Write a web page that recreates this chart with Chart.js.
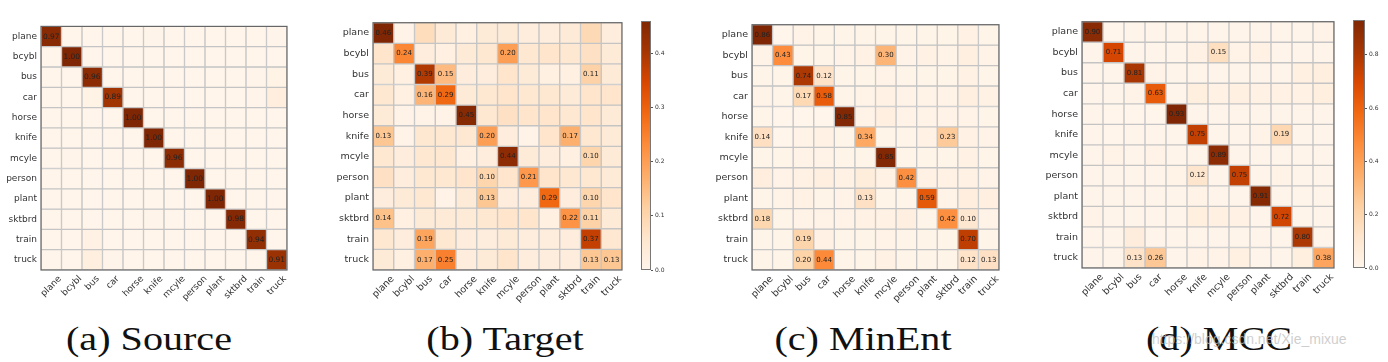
<!DOCTYPE html>
<html>
<head>
<meta charset="utf-8">
<script src="https://cdn.jsdelivr.net/npm/chart.js@4.4.1/dist/chart.umd.min.js"></script>
<style>
  html, body { margin: 0; padding: 0; background: #fff; }
  body { width: 1388px; height: 362px; position: relative; overflow: hidden; }
  canvas { position: absolute; }
  .cap {
    position: absolute; top: 322px; transform: translateX(-50%) scaleX(1.18);
    font-family: "Liberation Serif", serif; font-size: 34px; line-height: 1; color: #111; white-space: nowrap;
  }
  .wm {
    position: absolute; left: 1152px; top: 331px;
    font-family: "Liberation Sans", sans-serif; font-size: 14px;
    color: rgba(190, 190, 190, 0.75); white-space: nowrap;
  }
</style>
</head>
<body>
<canvas id="cmSource"></canvas>
<canvas id="cmTarget"></canvas>
<canvas id="cbTarget"></canvas>
<canvas id="cmMinEnt"></canvas>
<canvas id="cmMCC"></canvas>
<canvas id="cbMCC"></canvas>
<div class="cap" style="left:149px">(a) Source</div>
<div class="cap" style="left:505px">(b) Target</div>
<div class="cap" style="left:863px">(c) MinEnt</div>
<div class="cap" style="left:1219px">(d) MCC</div>
<div class="wm">https://blog.csdn.net/Xie_mixue</div>

<script>
const classes = ["plane", "bcybl", "bus", "car", "horse", "knife", "mcyle", "person", "plant", "sktbrd", "train", "truck"];

// rows = true class, columns = predicted class
const source = [
  [0.97, 0.00, 0.00, 0.00, 0.00, 0.01, 0.00, 0.00, 0.00, 0.00, 0.00, 0.01],
  [0.00, 1.00, 0.00, 0.00, 0.00, 0.00, 0.00, 0.00, 0.00, 0.00, 0.00, 0.00],
  [0.00, 0.00, 0.96, 0.00, 0.00, 0.00, 0.00, 0.00, 0.00, 0.00, 0.01, 0.02],
  [0.00, 0.00, 0.02, 0.89, 0.00, 0.00, 0.00, 0.00, 0.00, 0.00, 0.01, 0.06],
  [0.00, 0.00, 0.00, 0.00, 1.00, 0.00, 0.00, 0.00, 0.00, 0.00, 0.00, 0.00],
  [0.00, 0.00, 0.00, 0.00, 0.00, 1.00, 0.00, 0.00, 0.00, 0.00, 0.00, 0.00],
  [0.00, 0.01, 0.00, 0.00, 0.00, 0.00, 0.96, 0.00, 0.00, 0.00, 0.00, 0.00],
  [0.00, 0.00, 0.00, 0.00, 0.00, 0.00, 0.00, 1.00, 0.00, 0.00, 0.00, 0.00],
  [0.00, 0.00, 0.00, 0.00, 0.00, 0.00, 0.00, 0.00, 1.00, 0.00, 0.00, 0.00],
  [0.00, 0.00, 0.00, 0.00, 0.00, 0.01, 0.00, 0.00, 0.00, 0.98, 0.00, 0.00],
  [0.00, 0.00, 0.03, 0.00, 0.00, 0.00, 0.00, 0.00, 0.00, 0.00, 0.94, 0.00],
  [0.00, 0.00, 0.05, 0.01, 0.00, 0.00, 0.00, 0.00, 0.00, 0.00, 0.00, 0.91]
];

const target = [
  [0.46, 0.01, 0.08, 0.04, 0.02, 0.04, 0.04, 0.03, 0.03, 0.04, 0.09, 0.03],
  [0.06, 0.24, 0.03, 0.02, 0.04, 0.05, 0.20, 0.05, 0.06, 0.05, 0.07, 0.04],
  [0.04, 0.02, 0.39, 0.15, 0.03, 0.03, 0.06, 0.04, 0.02, 0.02, 0.11, 0.04],
  [0.05, 0.02, 0.16, 0.29, 0.04, 0.05, 0.06, 0.05, 0.05, 0.04, 0.06, 0.06],
  [0.04, 0.01, 0.01, 0.01, 0.45, 0.05, 0.07, 0.06, 0.06, 0.05, 0.06, 0.04],
  [0.13, 0.01, 0.05, 0.05, 0.05, 0.20, 0.03, 0.01, 0.06, 0.17, 0.05, 0.04],
  [0.05, 0.03, 0.05, 0.05, 0.02, 0.03, 0.44, 0.04, 0.03, 0.02, 0.10, 0.04],
  [0.07, 0.03, 0.05, 0.05, 0.06, 0.10, 0.06, 0.21, 0.06, 0.05, 0.05, 0.04],
  [0.03, 0.04, 0.05, 0.01, 0.04, 0.13, 0.03, 0.03, 0.29, 0.03, 0.10, 0.06],
  [0.14, 0.02, 0.04, 0.04, 0.04, 0.05, 0.06, 0.06, 0.02, 0.22, 0.11, 0.04],
  [0.05, 0.03, 0.19, 0.05, 0.03, 0.03, 0.04, 0.03, 0.03, 0.03, 0.37, 0.05],
  [0.04, 0.02, 0.17, 0.25, 0.03, 0.04, 0.06, 0.03, 0.03, 0.03, 0.13, 0.13]
];

const minEnt = [
  [0.86, 0.00, 0.02, 0.01, 0.01, 0.01, 0.01, 0.01, 0.01, 0.01, 0.03, 0.01],
  [0.02, 0.43, 0.01, 0.01, 0.02, 0.03, 0.30, 0.02, 0.03, 0.02, 0.04, 0.02],
  [0.01, 0.01, 0.74, 0.12, 0.01, 0.01, 0.02, 0.01, 0.01, 0.01, 0.03, 0.01],
  [0.02, 0.01, 0.17, 0.58, 0.01, 0.02, 0.03, 0.02, 0.02, 0.02, 0.04, 0.03],
  [0.01, 0.00, 0.00, 0.00, 0.85, 0.02, 0.04, 0.02, 0.02, 0.02, 0.02, 0.01],
  [0.14, 0.00, 0.02, 0.03, 0.01, 0.34, 0.01, 0.01, 0.03, 0.23, 0.03, 0.02],
  [0.01, 0.01, 0.02, 0.02, 0.01, 0.01, 0.85, 0.01, 0.01, 0.01, 0.03, 0.01],
  [0.05, 0.02, 0.03, 0.04, 0.03, 0.06, 0.03, 0.42, 0.03, 0.03, 0.03, 0.02],
  [0.01, 0.02, 0.03, 0.01, 0.02, 0.13, 0.01, 0.01, 0.59, 0.02, 0.05, 0.04],
  [0.18, 0.01, 0.02, 0.02, 0.02, 0.03, 0.03, 0.04, 0.01, 0.42, 0.10, 0.02],
  [0.01, 0.01, 0.19, 0.03, 0.01, 0.01, 0.02, 0.01, 0.01, 0.01, 0.70, 0.01],
  [0.01, 0.01, 0.20, 0.44, 0.01, 0.01, 0.03, 0.01, 0.01, 0.01, 0.12, 0.13]
];

const mcc = [
  [0.90, 0.00, 0.01, 0.01, 0.01, 0.01, 0.01, 0.01, 0.01, 0.01, 0.01, 0.02],
  [0.01, 0.71, 0.01, 0.01, 0.01, 0.03, 0.15, 0.02, 0.03, 0.01, 0.01, 0.01],
  [0.01, 0.01, 0.81, 0.02, 0.01, 0.01, 0.01, 0.01, 0.01, 0.01, 0.04, 0.05],
  [0.01, 0.01, 0.02, 0.63, 0.01, 0.05, 0.03, 0.04, 0.03, 0.03, 0.03, 0.05],
  [0.01, 0.00, 0.00, 0.00, 0.93, 0.01, 0.01, 0.01, 0.01, 0.01, 0.01, 0.01],
  [0.01, 0.00, 0.01, 0.01, 0.01, 0.75, 0.01, 0.01, 0.02, 0.19, 0.01, 0.01],
  [0.01, 0.02, 0.01, 0.02, 0.01, 0.01, 0.89, 0.01, 0.01, 0.01, 0.01, 0.01],
  [0.01, 0.01, 0.01, 0.01, 0.02, 0.12, 0.01, 0.75, 0.01, 0.02, 0.01, 0.01],
  [0.01, 0.01, 0.01, 0.01, 0.01, 0.02, 0.01, 0.01, 0.91, 0.01, 0.01, 0.01],
  [0.02, 0.01, 0.01, 0.01, 0.01, 0.05, 0.04, 0.03, 0.01, 0.72, 0.01, 0.01],
  [0.01, 0.01, 0.06, 0.01, 0.01, 0.01, 0.01, 0.01, 0.01, 0.01, 0.80, 0.01],
  [0.01, 0.01, 0.13, 0.26, 0.01, 0.02, 0.02, 0.04, 0.01, 0.01, 0.05, 0.38]
];

// matplotlib "Oranges"
const orangeStops = ["#fff5eb", "#fee6ce", "#fdd0a2", "#fdae6b", "#fd8d3c", "#f16913", "#d94801", "#a63603", "#7f2704"];

function hexRgb(h) {
  return [parseInt(h.slice(1, 3), 16), parseInt(h.slice(3, 5), 16), parseInt(h.slice(5, 7), 16)];
}

function oranges(t) {
  t = Math.max(0, Math.min(1, t));
  const pos = t * (orangeStops.length - 1);
  const i = Math.min(Math.floor(pos), orangeStops.length - 2);
  const f = pos - i;
  const a = hexRgb(orangeStops[i]);
  const b = hexRgb(orangeStops[i + 1]);
  const c = a.map((v, k) => Math.round(v + (b[k] - v) * f));
  return "rgb(" + c.join(",") + ")";
}

const cellText = {
  id: "cellText",
  afterDatasetsDraw(chart, args, opts) {
    const { ctx, chartArea, scales } = chart;
    const x = scales.x;
    const y = scales.y;
    ctx.save();
    // values
    ctx.font = opts.annSize + "px 'DejaVu Sans'";
    ctx.fillStyle = "#222";
    ctx.textAlign = "center";
    ctx.textBaseline = "middle";
    opts.matrix.forEach((row, r) => {
      row.forEach((v, c) => {
        if (v >= 0.095) {
          ctx.fillText(v.toFixed(2), x.getPixelForValue(c), y.getPixelForValue(r + 0.5));
        }
      });
    });
    // frame
    ctx.strokeStyle = "#666";
    ctx.lineWidth = 1.2;
    ctx.strokeRect(chartArea.left, chartArea.top, chartArea.right - chartArea.left, chartArea.bottom - chartArea.top);
    // x labels, rotated 45deg and centred on the tick
    ctx.font = opts.labelSize + "px 'DejaVu Sans'";
    ctx.fillStyle = "#333";
    classes.forEach((name, i) => {
      const w = ctx.measureText(name).width;
      const h = (w + opts.labelSize * 0.75) * Math.SQRT1_2;
      const cx = x.getPixelForTick(i);
      const cy = chartArea.bottom + 5 + h / 2;
      ctx.save();
      ctx.translate(cx, cy);
      ctx.rotate(-Math.PI / 4);
      ctx.fillText(name, 0, 0);
      ctx.restore();
    });
    ctx.restore();
  }
};

function heatmap(id, matrix, box, labelSize, annSize) {
  const vmax = Math.max(...matrix.flat());
  const padL = Math.min(48, box.l);
  const padT = 8, padR = 8, padB = 50;
  const canvas = document.getElementById(id);
  canvas.width = box.r - box.l + padL + padR;
  canvas.height = box.b - box.t + padT + padB;
  canvas.style.left = (box.l - padL) + "px";
  canvas.style.top = (box.t - padT) + "px";

  const datasets = matrix.map((row, r) => ({
    data: row.map(() => [r, r + 1]),
    backgroundColor: row.map((v) => oranges(v / vmax)),
    borderColor: "#c4c4c4",
    borderWidth: 1,
    borderSkipped: false,
    barPercentage: 1,
    categoryPercentage: 1,
    grouped: false
  }));

  new Chart(canvas, {
    type: "bar",
    data: { labels: classes, datasets: datasets },
    options: {
      responsive: false,
      animation: false,
      events: [],
      layout: { padding: { left: 0, top: padT, right: padR, bottom: 0 } },
      plugins: {
        legend: { display: false },
        tooltip: { enabled: false },
        cellText: { matrix: matrix, annSize: annSize, labelSize: labelSize }
      },
      scales: {
        x: {
          grid: { display: false },
          border: { display: false },
          ticks: { display: false },
          afterFit: (s) => { s.height = padB; }
        },
        y: {
          min: 0,
          max: classes.length,
          reverse: true,
          grid: { display: false, drawTicks: false },
          border: { display: false },
          afterBuildTicks: (s) => { s.ticks = classes.map((_, i) => ({ value: i + 0.5 })); },
          afterFit: (s) => { s.width = padL; },
          ticks: {
            autoSkip: false,
            padding: 4,
            color: "#333",
            font: { family: "DejaVu Sans", size: labelSize },
            callback: (v) => classes[Math.floor(v)]
          }
        }
      }
    },
    plugins: [cellText]
  });
}

const barFrame = {
  id: "barFrame",
  afterDatasetsDraw(chart) {
    const { ctx, chartArea } = chart;
    ctx.save();
    ctx.strokeStyle = "#777";
    ctx.lineWidth = 1;
    ctx.strokeRect(chartArea.left + 0.5, chartArea.top + 0.5, chartArea.right - chartArea.left - 1, chartArea.bottom - chartArea.top - 1);
    ctx.restore();
  }
};

function colorbar(id, matrix, box, step) {
  const vmax = Math.max(...matrix.flat());
  const axisW = 26, padT = 8;
  const canvas = document.getElementById(id);
  canvas.width = box.r - box.l + axisW;
  canvas.height = box.b - box.t + padT * 2;
  canvas.style.left = box.l + "px";
  canvas.style.top = (box.t - padT) + "px";

  new Chart(canvas, {
    type: "bar",
    data: {
      labels: [""],
      datasets: [{
        data: [[0, vmax]],
        barPercentage: 1,
        categoryPercentage: 1,
        borderWidth: 0,
        backgroundColor: (ctx) => {
          const chart = ctx.chart;
          const y = chart.scales.y;
          if (!chart.chartArea || !y) return orangeStops[4];
          const g = chart.ctx.createLinearGradient(0, y.getPixelForValue(0), 0, y.getPixelForValue(vmax));
          orangeStops.forEach((c, i) => g.addColorStop(i / (orangeStops.length - 1), c));
          return g;
        }
      }]
    },
    options: {
      responsive: false,
      animation: false,
      events: [],
      layout: { padding: { left: 0, right: 0, top: padT, bottom: padT } },
      plugins: { legend: { display: false }, tooltip: { enabled: false } },
      scales: {
        x: { display: false },
        y: {
          position: "right",
          min: 0,
          max: vmax,
          grid: { drawOnChartArea: false, tickLength: 2, color: "#555" },
          border: { display: false },
          afterFit: (s) => { s.width = axisW; },
          ticks: {
            stepSize: step,
            includeBounds: false,
            padding: 2,
            color: "#333",
            font: { family: "DejaVu Sans", size: 6 },
            callback: (v) => v.toFixed(1)
          }
        }
      }
    },
    plugins: [barFrame]
  });
}

heatmap("cmSource", source, { l: 41, t: 25, r: 287, b: 270 }, 9, 7.5);
heatmap("cmTarget", target, { l: 373, t: 21, r: 622, b: 270 }, 9.5, 7);
colorbar("cbTarget", target, { l: 641, t: 21, r: 651, b: 270 }, 0.1);
heatmap("cmMinEnt", minEnt, { l: 752, t: 23, r: 999, b: 270 }, 9.5, 7);
heatmap("cmMCC", mcc, { l: 1082, t: 20, r: 1334, b: 268 }, 9.5, 7);
colorbar("cbMCC", mcc, { l: 1353, t: 20, r: 1365, b: 268 }, 0.2);
</script>
</body>
</html>
